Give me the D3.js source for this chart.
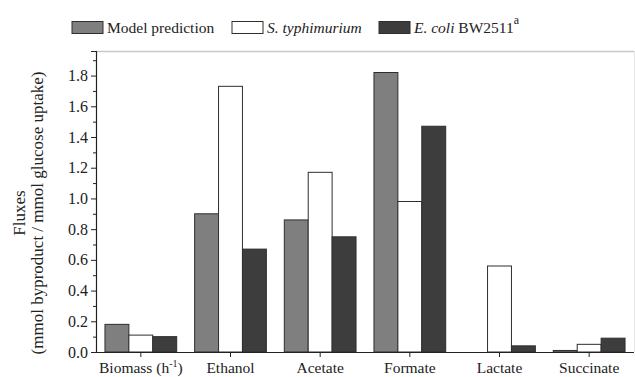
<!DOCTYPE html>
<html>
<head>
<meta charset="utf-8">
<script src="https://cdn.jsdelivr.net/npm/d3@7"></script>
<style>
  html, body { margin: 0; padding: 0; background: #fff; }
  svg { display: block; font-family: "Liberation Serif", "Times New Roman", serif; }
</style>
</head>
<body>
<svg id="chart" width="635" height="377"></svg>
<script>
const categories = ["Biomass", "Ethanol", "Acetate", "Formate", "Lactate", "Succinate"];
const seriesNames = ["Model prediction", "S. typhimurium", "E. coli BW2511"];
const modelPrediction = [0.18, 0.90, 0.86, 1.82, 0.00, 0.01];
const sTyphimurium   = [0.11, 1.73, 1.17, 0.98, 0.56, 0.05];
const eColi          = [0.10, 0.67, 0.75, 1.47, 0.04, 0.09];
const yTicks = [0.0, 0.2, 0.4, 0.6, 0.8, 1.0, 1.2, 1.4, 1.6, 1.8];
const yMinorTicks = [0.1, 0.3, 0.5, 0.7, 0.9, 1.1, 1.3, 1.5, 1.7, 1.9];

const seriesValues = [modelPrediction, sTyphimurium, eColi];
const fills = ["#7f7f7f", "#ffffff", "#3d3d3d"];
const strokeCol = "#2e2e2e";

const svg = d3.select("#chart");
const mLeft = 96, mRight = 634, mTop = 51, mBottom = 352;

const x0 = d3.scaleBand().domain(categories).range([mLeft, mRight]).paddingInner(0.2).paddingOuter(0.1);
const x1 = d3.scaleBand().domain(d3.range(seriesNames.length)).range([0, x0.bandwidth()]);
const y = d3.scaleLinear().domain([0, 1.96]).range([mBottom, mTop]);

// frame top/right light lines
svg.append("line").attr("x1", mLeft).attr("x2", mRight).attr("y1", mTop + 0.5).attr("y2", mTop + 0.5)
  .attr("stroke", "#c8c8c8").attr("stroke-width", 1.5);
svg.append("line").attr("x1", mRight + 0.5).attr("x2", mRight + 0.5).attr("y1", mTop).attr("y2", mBottom)
  .attr("stroke", "#e4e4e4").attr("stroke-width", 1);

// bars
const groups = svg.append("g").selectAll("g").data(categories).join("g")
  .attr("transform", d => `translate(${x0(d)},0)`);
groups.selectAll("rect").data((d, i) => seriesValues.map((s, k) => ({k, v: s[i]}))).join("rect")
  .attr("x", d => x1(d.k))
  .attr("width", x1.bandwidth())
  .attr("y", d => y(d.v))
  .attr("height", d => Math.max(0, y(0) - y(d.v)))
  .attr("fill", d => fills[d.k])
  .attr("stroke", strokeCol)
  .attr("stroke-width", 1);

// y axis
const yAxis = d3.axisLeft(y).tickValues(yTicks).tickFormat(d3.format(".1f")).tickSize(5).tickPadding(3);
const gy = svg.append("g").attr("transform", `translate(${mLeft},0)`).call(yAxis);
gy.select(".domain").attr("stroke", "#222").attr("stroke-width", 1.2);
gy.selectAll(".tick line").attr("stroke", "#222");
gy.selectAll(".tick text").attr("font-size", 16).attr("font-family", "Liberation Serif").attr("fill", "#222");
const yMinor = d3.axisLeft(y).tickValues(yMinorTicks).tickSize(3).tickFormat("");
const gym = svg.append("g").attr("transform", `translate(${mLeft},0)`).call(yMinor);
gym.select(".domain").remove();
gym.selectAll(".tick line").attr("stroke", "#222");

// x axis
const xAxis = d3.axisBottom(x0).tickSize(5).tickPadding(6).tickFormat("");
const gx = svg.append("g").attr("transform", `translate(0,${mBottom})`).call(xAxis);
gx.select(".domain").attr("stroke", "#222").attr("stroke-width", 1.2).attr("d", `M${mLeft},0.5H${mRight}`);
gx.selectAll(".tick line").attr("stroke", "#222");
gx.selectAll(".tick").each(function(d) {
  const t = d3.select(this).append("text").attr("y", 21).attr("text-anchor", "middle")
    .attr("font-size", 15.5).attr("fill", "#222").attr("font-family", "Liberation Serif");
  if (d === "Biomass") {
    t.append("tspan").text("Biomass (h");
    t.append("tspan").attr("dy", -6).attr("font-size", 10).text("-1");
    t.append("tspan").attr("dy", 6).text(")");
  } else {
    t.text(d);
  }
});

// y axis title
const yt = svg.append("text").attr("transform", "translate(0,213) rotate(-90)")
  .attr("text-anchor", "middle").attr("font-size", 17).attr("fill", "#222");
yt.append("tspan").attr("x", 0).attr("y", 25).text("Fluxes");
yt.append("tspan").attr("x", 0).attr("y", 43).text("(mmol byproduct / mmol glucose uptake)");

// legend
const legendX = [72, 232, 379];
const lg = svg.append("g");
seriesNames.forEach((name, k) => {
  lg.append("rect").attr("x", legendX[k]).attr("y", 21.5).attr("width", 31).attr("height", 12)
    .attr("fill", fills[k]).attr("stroke", strokeCol).attr("stroke-width", 1);
  const t = lg.append("text").attr("x", legendX[k] + 35).attr("y", 32.5).attr("font-size", 15.5).attr("fill", "#222");
  if (k === 0) t.text(name);
  else if (k === 1) t.append("tspan").attr("font-style", "italic").text(name);
  else {
    t.append("tspan").attr("font-style", "italic").text("E. coli");
    t.append("tspan").text(" BW2511");
    t.append("tspan").attr("dy", -9).attr("font-size", 12).text("a");
  }
});
</script>
</body>
</html>
